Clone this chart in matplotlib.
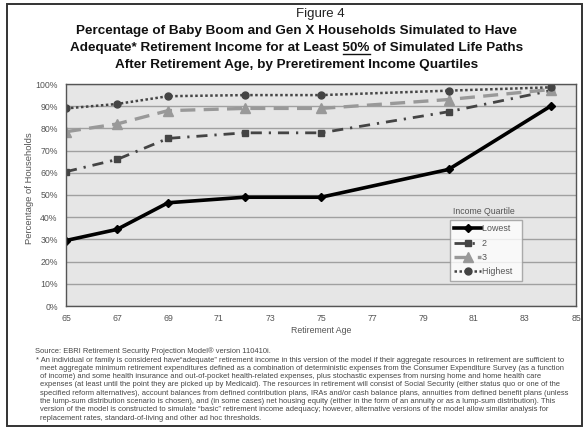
import matplotlib
matplotlib.use("Agg")
import matplotlib.pyplot as plt
from matplotlib.patches import Rectangle
from matplotlib.lines import Line2D
from matplotlib.ticker import FuncFormatter

plt.rcParams['font.family'] = ['Liberation Sans', 'DejaVu Sans']

# retirement ages simulated
ages = [65, 67, 69, 72, 75, 80, 84]
# percentage of households, by preretirement income quartile
lowest = [29.5, 34.5, 46.5, 49, 49, 61.5, 90]
q2 = [60.5, 66, 75.5, 78, 78, 87.5, 97]
q3 = [78.5, 82, 88, 89, 89, 93, 97.5]
highest = [89, 91, 94.5, 95, 95, 97, 98.5]

series_names = ["Lowest", "2", "3", "Highest"]

title_lines = [
    "Percentage of Baby Boom and Gen X Households Simulated to Have",
    "Adequate* Retirement Income for at Least 50% of Simulated Life Paths",
    "After Retirement Age, by Preretirement Income Quartiles",
]
source_text = "Source: EBRI Retirement Security Projection Model\u00ae version 110410i."
notes = [
    "* An individual or family is considered have\u201cadequate\u201d retirement income in this version of the model if their aggregate resources in retirement are sufficient to",
    "meet aggregate minimum retirement expenditures defined as a combination of deterministic expenses from the Consumer Expenditure Survey (as a function",
    "of income) and some health insurance and out-of-pocket health-related expenses, plus stochastic expenses from nursing home and home health care",
    "expenses (at least until the point they are picked up by Medicaid). The resources in retirement will consist of Social Security (either status quo or one of the",
    "specified reform alternatives), account balances from defined contribution plans, IRAs and/or cash balance plans, annuities from defined benefit plans (unless",
    "the lump-sum distribution scenario is chosen), and (in some cases) net housing equity (either in the form of an annuity or as a lump-sum distribution). This",
    "version of the model is constructed to simulate \u201cbasic\u201d retirement income adequacy; however, alternative versions of the model allow similar analysis for",
    "replacement rates, standard-of-living and other ad hoc thresholds.",
]

W, H = 585, 429
fig = plt.figure(figsize=(W / 100, H / 100), dpi=100)
fig.patch.set_facecolor("white")
r = fig.canvas.get_renderer()


def fit_size(text, target_px, size0, **kw):
    # find a font size so that text is about target_px wide
    t = fig.text(0, 0, text, fontsize=size0, **kw)
    w = t.get_window_extent(r).width
    t.remove()
    return size0 * target_px / w


# outer frame
fig.patches.append(Rectangle((7 / W, 3 / H), 575 / W, 422 / H, transform=fig.transFigure,
                             fill=False, edgecolor="#333333", linewidth=1.4))

ax = fig.add_axes([66 / W, 1 - 306 / H, 510 / W, 222 / H])
ax.set_facecolor("#e6e6e6")

ax.plot(ages, lowest, color="black", lw=2.6, marker="D", ms=4, label=series_names[0])
ax.plot(ages, q2, color="#444444", lw=2.0, ls=(0, (4, 2.5, 0.8, 2.5)), marker="s", ms=5, label=series_names[1])
ax.plot(ages, q3, color="#999999", lw=2.4, ls=(0, (4.5, 2.5)), marker="^", ms=6.5, label=series_names[2])
ax.plot(ages, highest, color="#444444", lw=1.8, ls=(0, (1, 1)), marker="o", ms=5, label=series_names[3])

ax.set_xlim(65, 85)
ax.set_ylim(0, 100)
ax.set_xticks(range(65, 86, 2))
ax.set_yticks(range(0, 101, 10))
ax.yaxis.set_major_formatter(FuncFormatter(lambda v, p: f"{int(v)}%"))
ax.grid(axis="y", color="#a0a0a0", lw=1)
ax.set_axisbelow(True)
ax.tick_params(length=0, labelsize=6.3, labelcolor="#555555", pad=6)
for s in ax.spines.values():
    s.set_color("#555555")
    s.set_linewidth(1)

ax.set_xlabel("Retirement Age", fontsize=6.3, color="#555555", labelpad=2)
ax.set_ylabel("Percentage of Households", fontsize=6.8, color="#555555", va="center")
ax.yaxis.set_label_coords((29 - 66) / 510, (306 - 188) / 222)

leg = ax.legend(loc="upper left", bbox_to_anchor=((450 - 66) / 510, (306 - 220) / 222), fontsize=6.4,
                frameon=True, fancybox=False, handlelength=3.0, borderpad=0.5,
                labelspacing=0.6, handletextpad=0.1, borderaxespad=0)
leg.get_frame().set_edgecolor("#999999")
leg.get_frame().set_facecolor("white")
leg.get_frame().set_linewidth(1)
for t in leg.get_texts():
    t.set_color("#555555")
    t.set_text(t.get_text() + "  ")
fig.text(484 / W, 1 - 212 / H, "Income Quartile", ha="center", va="center", fontsize=6.3, color="#555555")

# titles
fig.text(320 / W, 1 - 14 / H, "Figure 4", ha="center", va="center", fontsize=9.5, color="#222222")
tsize = fit_size(title_lines[0], 440, 9, fontweight="bold")
ys = [31, 48, 65]
title_objs = []
for line, y in zip(title_lines, ys):
    title_objs.append(fig.text(297 / W, 1 - y / H, line, ha="center", va="center",
                               fontsize=tsize, fontweight="bold", color="#111111"))

# underline "50%"
fig.canvas.draw()
t2 = title_objs[1]
bb = t2.get_window_extent(r)
pre = fig.text(0, 0, "Adequate* Retirement Income for at Least 50%", fontsize=tsize, fontweight="bold")
pct = fig.text(0, 0, "50%", fontsize=tsize, fontweight="bold")
x_end = bb.x0 + pre.get_window_extent(r).width
x_start = x_end - pct.get_window_extent(r).width
pre.remove()
pct.remove()
uy = bb.y0 + 0.5
fig.add_artist(Line2D([x_start / W, x_end / W], [uy / H, uy / H], transform=fig.transFigure,
                      color="#111111", lw=1.0))

# source and notes
nsize = fit_size(notes[0], 537, 5.0)
fig.text(35 / W, 1 - 351 / H, source_text, ha="left", va="center", fontsize=nsize, color="#444444")
for i, line in enumerate(notes):
    x = 36 if i == 0 else 40
    fig.text(x / W, 1 - (360 + 8.3 * i) / H, line, ha="left", va="center", fontsize=nsize, color="#444444")

fig.savefig("out.png", dpi=100)
